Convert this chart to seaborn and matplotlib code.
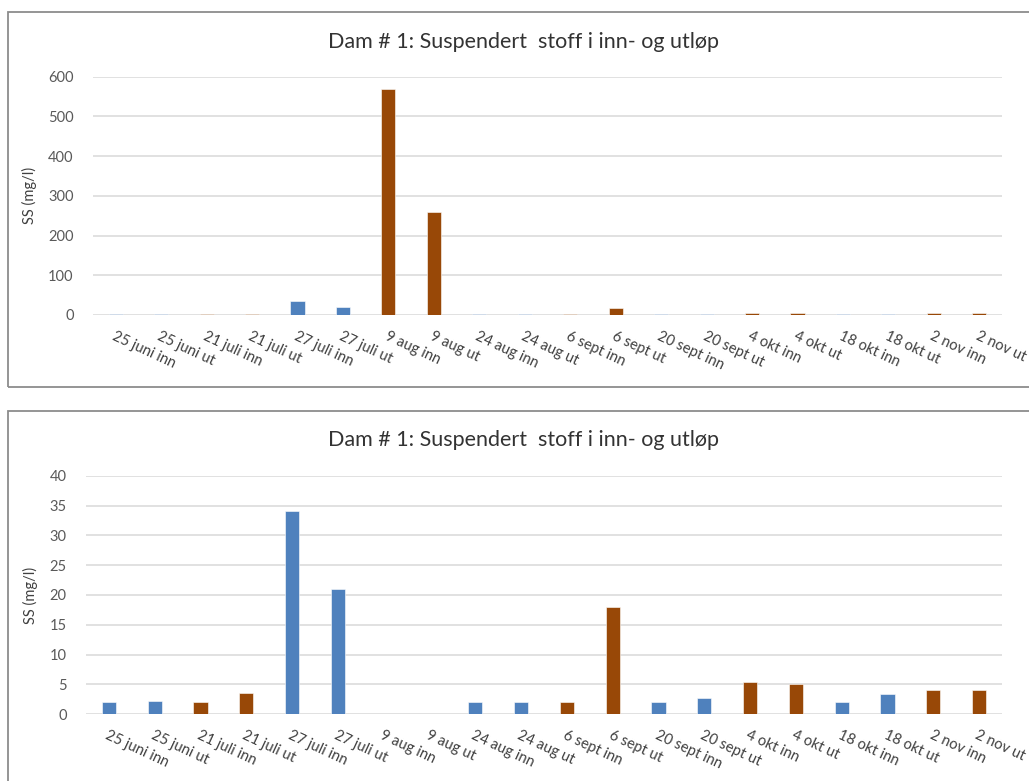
import numpy as np
import pandas as pd
import matplotlib
matplotlib.use("Agg")
import matplotlib.pyplot as plt
from matplotlib.patches import Rectangle
import seaborn as sns

# Sampling points (date + inlet/outlet)
categories = [
    "25 juni inn", "25 juni ut", "21 juli inn", "21 juli ut",
    "27 juli inn", "27 juli ut", "9 aug inn", "9 aug ut",
    "24 aug inn", "24 aug ut", "6 sept inn", "6 sept ut",
    "20 sept inn", "20 sept ut", "4 okt inn", "4 okt ut",
    "18 okt inn", "18 okt ut", "2 nov inn", "2 nov ut",
]

# Suspended solids, mg/l
ss_values = [
    2.0, 2.2, 2.0, 3.6,
    34.0, 21.0, 570.0, 260.0,
    2.0, 2.0, 2.0, 18.0,
    2.0, 2.7, 5.4, 5.1,
    2.0, 3.35, 4.0, 4.0,
]

# Bar colour group for each sampling point
color_group = [
    "blue", "blue", "brown", "brown",
    "blue", "blue", "brown", "brown",
    "blue", "blue", "brown", "brown",
    "blue", "blue", "brown", "brown",
    "blue", "blue", "brown", "brown",
]

title = "Dam # 1: Suspendert  stoff i inn- og utløp"
y_label = "SS (mg/l)"

sns.set_theme(style="white")
plt.rcParams["font.family"] = ["Lato", "DejaVu Sans"]

group_colors = {"blue": "#4F81BD", "brown": "#984807"}
palette = [group_colors[g] for g in color_group]

df = pd.DataFrame({"sample": categories, "ss": ss_values, "group": color_group})

W, H = 1029, 781
fig = plt.figure(figsize=(W / 100, H / 100), dpi=100)


def px_rect(x0, y0, x1, y1):
    """Axes rectangle in figure fractions from pixel corners (top-left origin)."""
    return [x0 / W, 1 - y1 / H, (x1 - x0) / W, (y1 - y0) / H]


def draw_panel(rect, ymax, ystep, frame, title_y):
    ax = fig.add_axes(rect)
    data = df.copy()
    data.loc[data["ss"] > ymax, "ss"] = np.nan
    sns.barplot(
        data=data, x="sample", y="ss", hue="sample", palette=palette,
        legend=False, width=0.31, saturation=1, ax=ax,
        edgecolor="#ffffff", linewidth=0.4,
    )
    ax.set_xlim(-0.5, len(categories) - 0.5)
    ax.set_ylim(0, ymax)
    ax.set_yticks(np.arange(0, ymax + ystep / 2, ystep))
    ax.yaxis.grid(True, color="#d9d9d9", linewidth=1.1)
    ax.set_axisbelow(True)
    for s in ax.spines.values():
        s.set_visible(False)
    ax.tick_params(axis="both", length=0, labelsize=10.5, colors="#595959")
    ax.tick_params(axis="y", pad=14)
    ax.set_xticks(range(len(categories)))
    ax.set_xticklabels(categories, rotation=-25, ha="left", va="top",
                       rotation_mode="anchor", fontsize=10.5, color="#404040")
    ax.tick_params(axis="x", pad=10)
    ax.set_xlabel("")
    ax.set_ylabel(y_label, fontsize=10.5, color="#404040", labelpad=8)
    fig.text(524 / W, 1 - title_y / H, title, ha="center", va="center",
             fontsize=15.5, color="#333333")
    x0, y0, x1, y1 = frame
    fig.patches.append(Rectangle((x0 / W, 1 - y1 / H), (x1 - x0) / W, (y1 - y0) / H,
                                 transform=fig.transFigure, fill=False,
                                 edgecolor="#8c8c8c", linewidth=1.3))
    return ax


draw_panel(px_rect(93, 76.7, 1002, 315), 600, 100, (7.5, 12, 1035, 387), 42)
draw_panel(px_rect(86, 475.7, 1002, 714.3), 40, 5, (7.5, 411, 1035, 800), 440.5)

fig.savefig("out.png", dpi=100, facecolor="white")
